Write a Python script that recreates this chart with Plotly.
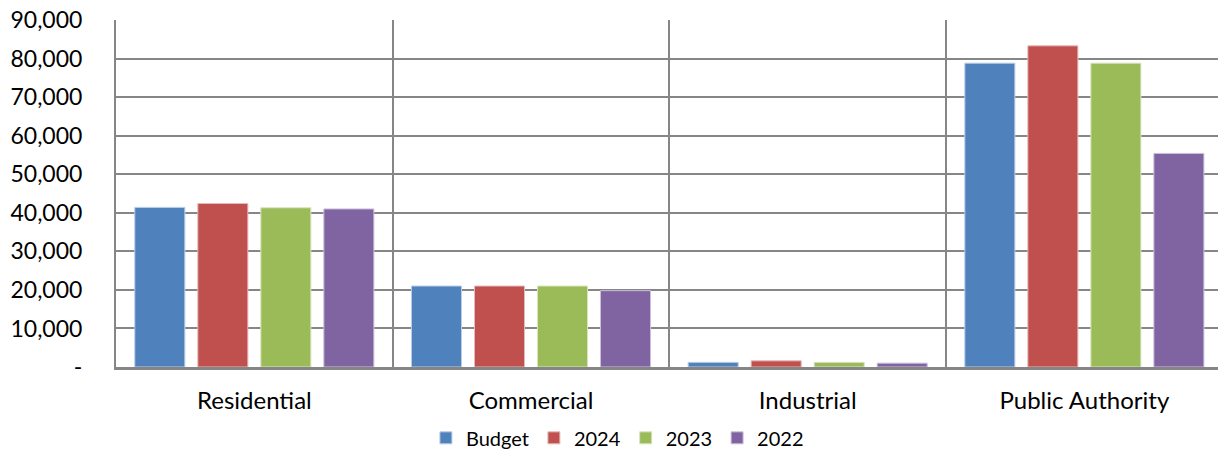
import plotly.graph_objects as go

categories = ["Residential", "Commercial", "Industrial", "Public Authority"]
series_names = ["Budget", "2024", "2023", "2022"]
budget = [41400, 21000, 1200, 78800]
y2024 = [42400, 21000, 1600, 83300]
y2023 = [41300, 21000, 1200, 78800]
y2022 = [41000, 19800, 1000, 55400]
colors = ["#4F81BD", "#C0504D", "#9BBB59", "#8064A2"]
edge_colors = ["#B9CDE5", "#E6B9B8", "#D7E4BD", "#CCC1DA"]
tick_vals = [0, 10000, 20000, 30000, 40000, 50000, 60000, 70000, 80000, 90000]
tick_text = ["-", "10,000", "20,000", "30,000", "40,000", "50,000", "60,000", "70,000", "80,000", "90,000"]

FONT = "Lato, Calibri, Carlito, sans-serif"

fig = go.Figure()
for name, vals, c, ec in zip(series_names, [budget, y2024, y2023, y2022], colors, edge_colors):
    fig.add_trace(go.Bar(x=categories, y=vals, name=name,
                         marker=dict(color=c, line=dict(color=ec, width=1))))

fig.update_layout(
    width=1218, height=451,
    margin=dict(l=116, r=0, t=20, b=84, autoexpand=False),
    paper_bgcolor="white", plot_bgcolor="white",
    barmode="group", bargap=0.089, bargroupgap=0.206,
    font=dict(family=FONT, size=22, color="#000000"),
    legend=dict(orientation="h", x=0.455, xanchor="center", y=-0.148, yanchor="top",
                font=dict(size=20), itemwidth=30, traceorder="normal"),
    showlegend=True,
)
fig.update_xaxes(
    type="category", tickson="boundaries", showgrid=True, gridcolor="#868686", gridwidth=1.5,
    range=[-0.5, 3.483], showline=True, linecolor="#868686", linewidth=2.5,
    ticks="", tickfont=dict(size=24), ticklabelstandoff=10, automargin=False,
)
fig.update_yaxes(
    range=[0, 90000], tickvals=tick_vals, ticktext=tick_text, showgrid=True,
    gridcolor="#868686", gridwidth=1.5, showline=True, linecolor="#868686", linewidth=2,
    ticks="", tickfont=dict(size=23), ticklabelstandoff=27, zeroline=False, automargin=False,
)
fig.write_html("out.html", config={"displayModeBar": False},
               post_script="document.body.style.margin='0px';document.body.style.overflow='hidden';")
